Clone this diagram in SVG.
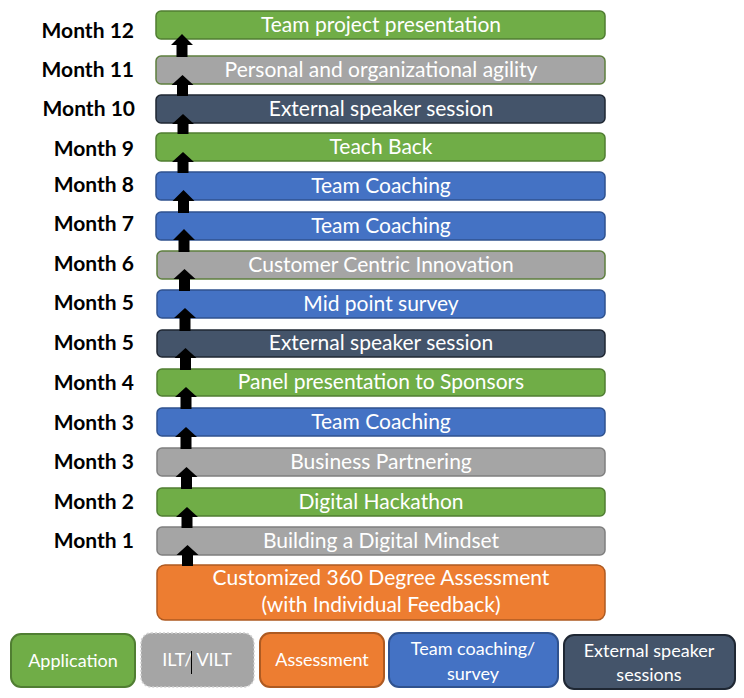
<svg xmlns="http://www.w3.org/2000/svg" width="744" height="698" viewBox="0 0 744 698">
<style>
.bx{stroke-width:1.5}
.g{fill:#70AD47;stroke:#507E32}
.s{fill:#A5A5A5;stroke:#5E7F3E}
.s2{fill:#A5A5A5;stroke:#7F7F7F}
.b{fill:#4472C4;stroke:#2F528F}
.n{fill:#44546A;stroke:#1F2733}
.o{fill:#ED7D31;stroke:#AE5A21}
.t{font-family:Lato,"Open Sans",sans-serif;font-size:21px;fill:#FFFFFF;text-anchor:middle}
.lt{font-family:Lato,"Open Sans",sans-serif;font-size:18px;fill:#FFFFFF;text-anchor:middle}
.m{font-family:Lato,"Open Sans",sans-serif;font-size:21px;font-weight:bold;fill:#000000;text-anchor:end}
.ar{fill:#000000}
</style>
<rect width="744" height="698" fill="#FFFFFF"/>
<g id="month-labels">
<text class="m" x="134" y="38">Month 12</text>
<text class="m" x="134" y="77">Month 11</text>
<text class="m" x="135" y="116">Month 10</text>
<text class="m" x="134" y="156">Month 9</text>
<text class="m" x="134" y="192">Month 8</text>
<text class="m" x="134" y="231">Month 7</text>
<text class="m" x="134" y="271">Month 6</text>
<text class="m" x="134" y="310">Month 5</text>
<text class="m" x="134" y="350">Month 5</text>
<text class="m" x="134" y="390">Month 4</text>
<text class="m" x="134" y="430">Month 3</text>
<text class="m" x="134" y="469">Month 3</text>
<text class="m" x="134" y="509">Month 2</text>
<text class="m" x="134" y="548">Month 1</text>
</g>
<g id="n1"><rect class="bx g" x="156" y="11" width="449" height="28" rx="5"/><text class="t" x="381" y="32">Team project presentation</text></g>
<g id="n2"><rect class="bx s" x="156" y="56" width="449" height="28" rx="5"/><text class="t" x="381" y="77">Personal and organizational agility</text></g>
<g id="n3"><rect class="bx n" x="156" y="95" width="449" height="28" rx="5"/><text class="t" x="381" y="116">External speaker session</text></g>
<g id="n4"><rect class="bx g" x="156" y="133" width="449" height="28" rx="5"/><text class="t" x="381" y="154">Teach Back</text></g>
<g id="n5"><rect class="bx b" x="156" y="172" width="449" height="28" rx="5"/><text class="t" x="381" y="193">Team Coaching</text></g>
<g id="n6"><rect class="bx b" x="156" y="212" width="449" height="28" rx="5"/><text class="t" x="381" y="233">Team Coaching</text></g>
<g id="n7"><rect class="bx s" x="157" y="251" width="448" height="28" rx="5"/><text class="t" x="381" y="272">Customer Centric Innovation</text></g>
<g id="n8"><rect class="bx b" x="157" y="290" width="448" height="28" rx="5"/><text class="t" x="381" y="311">Mid point survey</text></g>
<g id="n9"><rect class="bx n" x="157" y="330" width="448" height="27" rx="5"/><text class="t" x="381" y="350">External speaker session</text></g>
<g id="n10"><rect class="bx g" x="157" y="369" width="448" height="27" rx="5"/><text class="t" x="381" y="389">Panel presentation to Sponsors</text></g>
<g id="n11"><rect class="bx b" x="157" y="408" width="448" height="28" rx="5"/><text class="t" x="381" y="429">Team Coaching</text></g>
<g id="n12"><rect class="bx s2" x="157" y="448" width="448" height="28" rx="5"/><text class="t" x="381" y="469">Business Partnering</text></g>
<g id="n13"><rect class="bx g" x="157" y="488" width="448" height="28" rx="5"/><text class="t" x="381" y="509">Digital Hackathon</text></g>
<g id="n14"><rect class="bx s2" x="157" y="527" width="448" height="28" rx="5"/><text class="t" x="381" y="548">Building a Digital Mindset</text></g>
<g id="n15"><rect class="bx o" x="157" y="565" width="448" height="55" rx="8"/><text class="t" x="381" y="585">Customized 360 Degree Assessment</text><text class="t" x="381" y="612">(with Individual Feedback)</text></g>
<g id="connectors">
<path class="ar" d="M182 34 L193 45 L187.5 45 L187.5 57 L176.5 57 L176.5 45 L171 45 Z"/>
<path class="ar" d="M182.5 75 L193.5 85 L188 85 L188 96 L177 96 L177 85 L171.5 85 Z"/>
<path class="ar" d="M183 114 L194 124 L188.5 124 L188.5 134 L177.5 134 L177.5 124 L172 124 Z"/>
<path class="ar" d="M183 152 L194 162 L188.5 162 L188.5 173 L177.5 173 L177.5 162 L172 162 Z"/>
<path class="ar" d="M183.5 190 L194.5 201 L189 201 L189 213 L178 213 L178 201 L172.5 201 Z"/>
<path class="ar" d="M184 229 L195 240 L189.5 240 L189.5 252 L178.5 252 L178.5 240 L173 240 Z"/>
<path class="ar" d="M184.5 269 L195.5 279 L190 279 L190 291 L179 291 L179 279 L173.5 279 Z"/>
<path class="ar" d="M185 308 L196 318 L190.5 318 L190.5 331 L179.5 331 L179.5 318 L174 318 Z"/>
<path class="ar" d="M185.5 348 L196.5 358 L191 358 L191 370 L180 370 L180 358 L174.5 358 Z"/>
<path class="ar" d="M186 387 L197 397 L191.5 397 L191.5 409 L180.5 409 L180.5 397 L175 397 Z"/>
<path class="ar" d="M186 427 L197 437 L191.5 437 L191.5 449 L180.5 449 L180.5 437 L175 437 Z"/>
<path class="ar" d="M186.5 467 L197.5 477 L192 477 L192 489 L181 489 L181 477 L175.5 477 Z"/>
<path class="ar" d="M187 507 L198 517 L192.5 517 L192.5 528 L181.5 528 L181.5 517 L176 517 Z"/>
<path class="ar" d="M187.5 545 L198.5 555 L193 555 L193 566 L182 566 L182 555 L176.5 555 Z"/>
</g>
<g id="legend">
<g id="leg-application"><rect class="g" stroke-width="2" x="11" y="634" width="124" height="53" rx="10"/><text class="lt" x="73" y="667">Application</text></g>
<g id="leg-ilt"><rect fill="#A5A5A5" stroke="#D0D0D0" stroke-width="1.5" stroke-dasharray="2 2" x="141" y="633" width="113" height="54" rx="10"/><text class="lt" x="197" y="666">ILT/ VILT</text><line x1="191.5" y1="651" x2="191.5" y2="674" stroke="#000000" stroke-width="1"/></g>
<g id="leg-assessment"><rect class="o" stroke-width="2" x="260" y="633" width="124" height="54" rx="10"/><text class="lt" x="322" y="666">Assessment</text></g>
<g id="leg-team"><rect class="b" stroke-width="2" x="389" y="633" width="169" height="54" rx="10"/><text class="lt" x="473" y="655">Team coaching/</text><text class="lt" x="473" y="680">survey</text></g>
<g id="leg-external"><rect class="n" stroke-width="2" x="564" y="635" width="171" height="54" rx="10"/><text class="lt" x="649" y="657">External speaker</text><text class="lt" x="649" y="681">sessions</text></g>
</g>
</svg>
